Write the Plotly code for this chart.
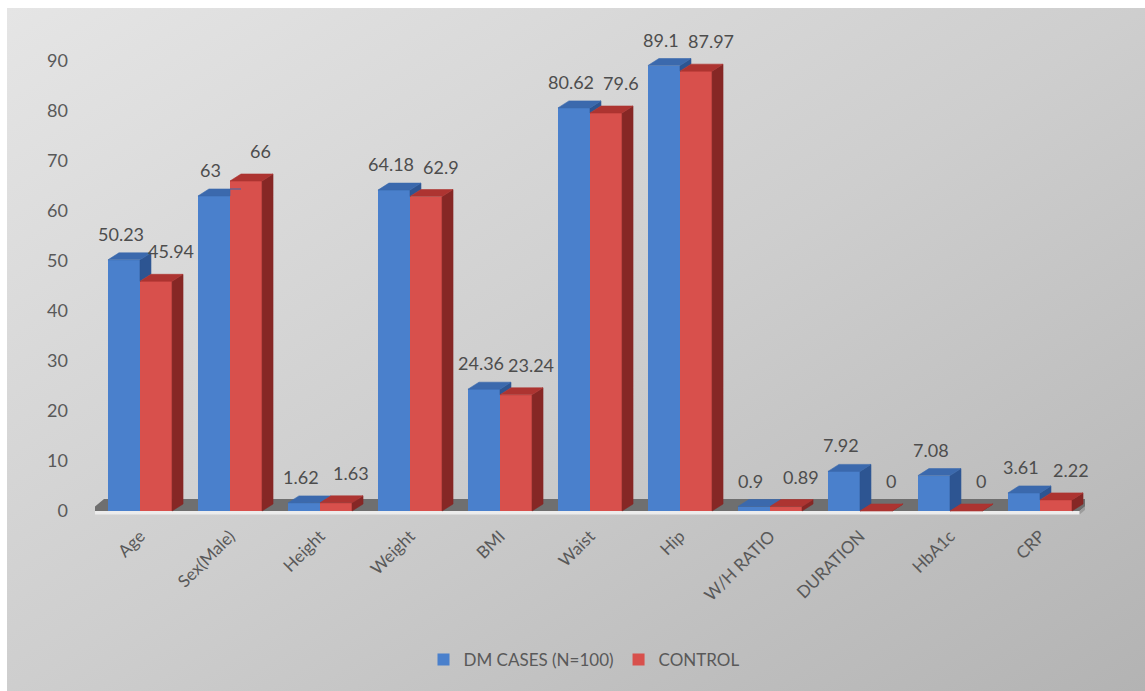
import base64
import plotly.graph_objects as go

# Chart data
categories = ["Age", "Sex(Male)", "Height", "Weight", "BMI", "Waist", "Hip",
              "W/H RATIO", "DURATION", "HbA1c", "CRP"]
dm_cases = [50.23, 63, 1.62, 64.18, 24.36, 80.62, 89.1, 0.9, 7.92, 7.08, 3.61]
control = [45.94, 66, 1.63, 62.9, 23.24, 79.6, 87.97, 0.89, 0, 0, 2.22]
series_names = ["DM CASES (N=100)", "CONTROL"]
y_ticks = [0, 10, 20, 30, 40, 50, 60, 70, 80, 90]

# Geometry of the pseudo-3D bars (axis units)
BAR_W = 0.356          # width of one bar front
DX, DY = 0.122, 1.4    # depth offset of top/side faces
FLOOR_DX, FLOOR_DY = 0.16, 2.4

FONT = "Lato, 'Open Sans', sans-serif"
TEXT_COL = "#595959"

BLUE = dict(front="#4a80cc", top="#3b69ad", side="#2d5592")
RED = dict(front="#d8504c", top="#ad3431", side="#862725")

n = len(categories)
idx = list(range(n))


def top_face(x0, x1, y, clip):
    """Top face of a bar, with the part hidden behind the neighbour's front removed."""
    yc = min(max(clip, y), y + DY)
    return [(x0, y), (x1, y), (x1, yc), (x1 + DX * (yc - y) / DY, yc),
            (x1 + DX, y + DY), (x0 + DX, y + DY), (x0, y)]


def side_face(x1, y, clip):
    """Right side face of a bar, keeping only what rises above the neighbour."""
    lo = max(clip, 0)
    if y <= lo and clip > 0:
        return []
    return [(x1, lo), (x1, y), (x1 + DX, y + DY), (x1 + DX, lo + DY), (x1, lo)]


def poly_trace(polys, color):
    xs, ys = [], []
    for p in polys:
        if not p:
            continue
        xs += [q[0] for q in p] + [None]
        ys += [q[1] for q in p] + [None]
    return go.Scatter(x=xs, y=ys, mode="lines", fill="toself", fillcolor=color,
                      line=dict(color=color, width=0.6), hoverinfo="skip",
                      showlegend=False)


fig = go.Figure()

# Front faces as bars
fig.add_trace(go.Bar(x=[i - BAR_W / 2 for i in idx], y=dm_cases, width=BAR_W,
                     name=series_names[0], marker=dict(color=BLUE["front"], line_width=0),
                     hovertext=categories))
fig.add_trace(go.Bar(x=[i + BAR_W / 2 for i in idx], y=control, width=BAR_W,
                     name=series_names[1], marker=dict(color=RED["front"], line_width=0),
                     hovertext=categories))

# Top and side faces
blue_tops, blue_sides, red_tops, red_sides = [], [], [], []
for i in idx:
    b, r = dm_cases[i], control[i]
    x0, x1, x2 = i - BAR_W, i, i + BAR_W
    blue_tops.append(top_face(x0, x1, b, r))
    blue_sides.append(side_face(x1, b, r))
    red_tops.append(top_face(x1, x2, r, r))
    red_sides.append(side_face(x2, r, 0))

fig.add_trace(poly_trace(blue_sides, BLUE["side"]))
fig.add_trace(poly_trace(blue_tops, BLUE["top"]))
fig.add_trace(poly_trace(red_sides, RED["side"]))
fig.add_trace(poly_trace(red_tops, RED["top"]))

# Value labels
annotations = []
for vals, dx_lab, ysh in ((dm_cases, -BAR_W / 2 - 0.035, 26), (control, BAR_W / 2 + 0.165, 30)):
    for i, v in zip(idx, vals):
        annotations.append(dict(x=i + dx_lab, y=v, xref="x", yref="y", text=f"{v:g}",
                                showarrow=False, yshift=ysh, yanchor="middle",
                                font=dict(family=FONT, size=18, color="#4d4d4d")))

# Floor slab under the bars
fx0, fx1 = -0.56, n - 0.56
floor_top = (f"M {fx0},0 L {fx1},0 L {fx1 + FLOOR_DX},{FLOOR_DY} "
             f"L {fx0 + FLOOR_DX},{FLOOR_DY} Z")
floor_front = f"M {fx0},0 L {fx1},0 L {fx1},-0.7 L {fx0},-0.7 Z"
floor_end = (f"M {fx1},0 L {fx1 + FLOOR_DX},{FLOOR_DY} L {fx1 + FLOOR_DX},{FLOOR_DY - 0.7} "
             f"L {fx1},-0.7 Z")
shapes = [
    dict(type="path", path=floor_top, xref="x", yref="y", layer="below",
         fillcolor="#6f6f6f", line=dict(width=0)),
    dict(type="path", path=floor_front, xref="x", yref="y", layer="below",
         fillcolor="#ececec", line=dict(width=0)),
    dict(type="path", path=floor_end, xref="x", yref="y", layer="below",
         fillcolor="#9c9c9c", line=dict(width=0)),
]

# Soft diagonal gray background
svg = ("<svg xmlns='http://www.w3.org/2000/svg' width='1138' height='683' "
       "preserveAspectRatio='none' viewBox='0 0 1138 683'>"
       "<defs><linearGradient id='g' x1='0' y1='0' x2='1' y2='1'>"
       "<stop offset='0' stop-color='#e5e5e5'/><stop offset='0.5' stop-color='#cecece'/>"
       "<stop offset='1' stop-color='#b3b3b3'/></linearGradient></defs>"
       "<rect x='0' y='0' width='1138' height='683' fill='url(#g)'/></svg>")
bg_src = "data:image/svg+xml;base64," + base64.b64encode(svg.encode()).decode()

W, H = 1145, 691
ML, MR, MT, MB = 95, 60, 40, 169
PW, PH = W - ML - MR, H - MT - MB

fig.update_layout(
    width=W, height=H, autosize=False,
    margin=dict(l=ML, r=MR, t=MT, b=MB, pad=0),
    paper_bgcolor="white", plot_bgcolor="rgba(0,0,0,0)",
    barmode="overlay", bargap=0,
    font=dict(family=FONT, color=TEXT_COL),
    showlegend=True,
    legend=dict(orientation="h", x=(584 - ML) / PW, xanchor="center",
                y=(MT + PH - 660) / PH, yanchor="middle",
                bgcolor="rgba(0,0,0,0)", font=dict(size=17, color=TEXT_COL),
                itemwidth=30, traceorder="normal"),
    xaxis=dict(range=[-0.5, n - 0.5], tickmode="array", tickvals=idx, ticktext=categories,
               tickangle=-45, showgrid=False, zeroline=False, showline=False, ticks="",
               tickfont=dict(size=17, color=TEXT_COL, family=FONT), fixedrange=True),
    yaxis=dict(range=[-(MT + PH - 511) / 5.0, (511 - MT) / 5.0], tickmode="array",
               tickvals=y_ticks, showgrid=False, zeroline=False, showline=False, ticks="",
               ticklabelstandoff=26, tickfont=dict(size=18, color=TEXT_COL, family=FONT),
               fixedrange=True),
    shapes=shapes,
    annotations=annotations,
    images=[dict(source=bg_src, xref="paper", yref="paper",
                 x=(7 - ML) / PW, y=(MT + PH - 8) / PH,
                 sizex=(W - 7) / PW, sizey=(H - 8) / PH,
                 xanchor="left", yanchor="top", sizing="stretch", layer="below")],
)

fig.write_html("out.html")
